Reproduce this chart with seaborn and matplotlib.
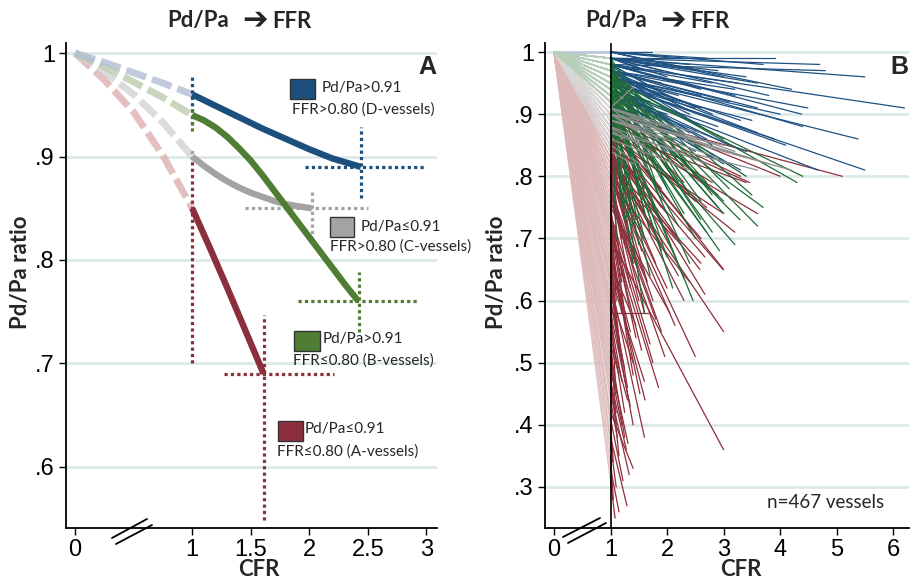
import numpy as np
import pandas as pd
import matplotlib
matplotlib.use("Agg")
import matplotlib.pyplot as plt
import seaborn as sns
from matplotlib.patches import Rectangle
from matplotlib.lines import Line2D

# ---------------- Panel A data (group mean curves) ----------------
d_fade_x = [0.0, 0.25, 0.5, 0.75, 1.0]
d_fade_y = [1.000, 0.991, 0.981, 0.971, 0.960]
d_curve_x = [1.0, 1.2, 1.4, 1.6, 1.8, 2.0, 2.2, 2.44]
d_curve_y = [0.960, 0.949, 0.938, 0.927, 0.917, 0.907, 0.898, 0.890]

b_fade_x = [0.0, 0.25, 0.5, 0.75, 1.0]
b_fade_y = [1.000, 0.987, 0.972, 0.957, 0.940]
b_curve_x = [1.0, 1.1, 1.2, 1.3, 1.4, 1.5, 1.6, 1.7, 1.8, 1.9, 2.0, 2.1, 2.2, 2.3, 2.42]
b_curve_y = [0.940, 0.935, 0.928, 0.919, 0.908, 0.896, 0.882, 0.867, 0.852, 0.837, 0.822,
             0.807, 0.792, 0.777, 0.760]

c_fade_x = [0.0, 0.25, 0.5, 0.75, 1.0]
c_fade_y = [1.000, 0.982, 0.960, 0.933, 0.900]
c_curve_x = [1.0, 1.1, 1.2, 1.3, 1.4, 1.5, 1.6, 1.7, 1.8, 1.9, 2.02]
c_curve_y = [0.900, 0.891, 0.883, 0.876, 0.870, 0.865, 0.861, 0.857, 0.854, 0.852, 0.850]

a_fade_x = [0.0, 0.25, 0.5, 0.75, 1.0]
a_fade_y = [1.000, 0.974, 0.943, 0.901, 0.850]
a_curve_x = [1.0, 1.15, 1.3, 1.45, 1.61]
a_curve_y = [0.850, 0.812, 0.773, 0.733, 0.690]

# dotted reference segments (x0, x1, y0, y1)
d_refs = [(1.0, 1.0, 0.930, 0.978), (2.44, 2.44, 0.860, 0.929), (1.96, 3.00, 0.890, 0.890)]
b_refs = [(1.0, 1.0, 0.925, 0.948), (2.42, 2.42, 0.730, 0.788), (1.90, 2.92, 0.760, 0.760)]
c_refs = [(1.0, 1.0, 0.897, 0.908), (2.02, 2.02, 0.819, 0.868), (1.45, 2.50, 0.850, 0.850)]
a_refs = [(1.0, 1.0, 0.700, 0.900), (1.61, 1.61, 0.549, 0.747), (1.27, 2.21, 0.690, 0.690)]

# ---------------- Panel B data (individual vessels) ----------------
blue_pdpa = [1.00, 0.99, 0.99, 0.99, 0.98, 0.97, 0.96, 0.95, 0.94, 0.97, 0.98, 0.96, 0.99, 0.98, 0.97,
             1.00, 0.95, 0.93, 0.99, 0.98, 0.97, 0.96, 0.98, 0.99, 0.95, 0.94, 0.93, 0.96, 0.94, 0.97,
             0.98, 0.95, 0.99, 0.97, 0.95, 0.92, 0.94, 0.92, 1.00, 0.96, 0.96, 1.00, 1.00, 0.93, 0.97,
             0.93, 0.96, 0.98, 0.99, 0.98, 0.99, 0.98, 0.97, 0.95, 0.94, 1.00, 0.99, 0.97, 0.96, 0.94,
             0.93, 0.92, 0.98, 0.95, 0.99, 0.99, 0.98, 0.97, 0.96, 0.95, 0.94, 0.93, 0.92, 0.97, 0.96,
             0.95, 0.99, 0.98, 1.00, 0.94, 0.93]
blue_cfr = [1.73, 3.91, 4.70, 5.50, 6.20, 4.49, 5.38, 5.50, 4.67, 4.40, 4.38, 4.00, 3.80, 3.26, 3.20,
            3.70, 3.90, 3.00, 2.50, 2.80, 3.10, 2.60, 2.20, 2.00, 3.50, 2.90, 3.40, 2.40, 2.70, 2.10,
            1.80, 2.30, 1.60, 3.60, 4.10, 2.50, 1.90, 2.20, 3.00, 3.30, 2.60, 4.20, 1.50, 2.00, 1.70,
            2.80, 3.60, 1.40, 2.40, 3.20, 2.90, 2.60, 2.30, 1.80, 2.40, 2.70, 3.40, 2.80, 1.60, 3.10,
            2.30, 1.90, 2.00, 2.10, 1.90, 1.30, 1.50, 1.90, 2.20, 2.50, 1.70, 1.50, 1.80, 2.60, 3.00,
            2.80, 3.60, 4.80, 2.10, 2.00, 3.30]
blue_ffr = [1.00, 0.99, 0.98, 0.96, 0.91, 0.91, 0.86, 0.81, 0.81, 0.88, 0.90, 0.90, 0.93, 0.95, 0.94,
            0.98, 0.86, 0.82, 0.97, 0.95, 0.92, 0.93, 0.95, 0.96, 0.89, 0.88, 0.84, 0.90, 0.86, 0.92,
            0.94, 0.87, 0.97, 0.91, 0.85, 0.84, 0.89, 0.83, 0.96, 0.89, 0.91, 0.94, 0.99, 0.90, 0.93,
            0.83, 0.87, 0.95, 0.98, 0.93, 0.97, 0.94, 0.91, 0.90, 0.87, 0.99, 0.96, 0.90, 0.92, 0.85,
            0.86, 0.85, 0.93, 0.88, 0.97, 0.99, 0.97, 0.95, 0.93, 0.91, 0.92, 0.91, 0.88, 0.88, 0.86,
            0.85, 0.95, 0.97, 0.99, 0.84, 0.81]

green_pdpa = [0.95, 0.96, 0.93, 0.92, 0.93, 0.94, 0.92, 0.93, 0.97, 0.95, 0.94, 0.96, 0.92, 0.98, 0.93,
              0.92, 0.94, 0.92, 0.99, 0.96, 0.97, 0.92, 0.93, 0.95, 0.94, 0.99, 0.95, 0.97, 0.96, 0.94,
              0.92, 0.98, 0.93, 0.95, 0.96, 0.99, 0.92, 0.94, 0.98, 0.97, 0.99, 0.93, 0.92, 0.95, 0.97,
              0.98, 0.94, 0.92]
green_cfr = [4.40, 4.30, 3.70, 3.20, 2.93, 3.29, 2.30, 2.46, 3.50, 3.00, 2.80, 2.60, 2.20, 2.00, 1.80,
             1.60, 2.40, 1.90, 1.50, 2.70, 3.10, 1.70, 2.10, 1.40, 2.50, 1.30, 2.90, 2.20, 1.90, 3.40,
             1.60, 1.20, 2.00, 2.60, 3.60, 1.80, 1.40, 2.30, 1.10, 2.80, 2.50, 1.50, 2.70, 1.70, 1.60,
             2.40, 3.00, 1.25]
green_ffr = [0.80, 0.79, 0.75, 0.69, 0.68, 0.73, 0.635, 0.60, 0.77, 0.74, 0.71, 0.76, 0.72, 0.78, 0.74,
             0.70, 0.66, 0.68, 0.77, 0.79, 0.78, 0.64, 0.62, 0.72, 0.70, 0.78, 0.75, 0.79, 0.76, 0.80,
             0.58, 0.75, 0.67, 0.73, 0.72, 0.79, 0.66, 0.74, 0.70, 0.77, 0.80, 0.69, 0.71, 0.71, 0.74,
             0.77, 0.76, 0.73]

gray_pdpa = [0.91, 0.90, 0.90, 0.89, 0.89, 0.88, 0.91, 0.90, 0.87, 0.90, 0.89, 0.91, 0.86, 0.88, 0.90,
             0.87, 0.91, 0.90, 0.88, 0.89, 0.91, 0.85, 0.84]
gray_cfr = [3.20, 3.40, 2.50, 3.00, 2.00, 2.70, 1.80, 2.20, 3.60, 1.50, 2.90, 1.30, 2.40, 1.90, 3.80,
            1.60, 2.10, 2.60, 1.20, 4.20, 1.42, 1.70, 1.40]
gray_ffr = [0.84, 0.83, 0.86, 0.85, 0.86, 0.82, 0.88, 0.84, 0.81, 0.87, 0.83, 0.89, 0.81, 0.83, 0.82,
            0.85, 0.88, 0.87, 0.86, 0.81, 0.945, 0.81, 0.82]

red_pdpa = [0.90, 0.89, 0.88, 0.87, 0.86, 0.84, 0.85, 0.70, 0.82, 0.80, 0.76, 0.88, 0.80, 0.66, 0.60,
            0.45, 0.38, 0.31, 0.50, 0.58, 0.68, 0.86, 0.90, 0.89, 0.91, 0.85, 0.83, 0.81, 0.78, 0.72,
            0.66, 0.74, 0.70, 0.60, 0.56, 0.84, 0.87, 0.88, 0.80, 0.82, 0.76, 0.84, 0.89, 0.83, 0.48,
            0.35, 0.78, 0.86, 0.87, 0.79, 0.72, 0.81, 0.80, 0.75, 0.64, 0.68, 0.55, 0.85, 0.86, 0.62,
            0.77, 0.73, 0.82, 0.74, 0.85, 0.58, 0.42, 0.52, 0.70, 0.83, 0.89, 0.88, 0.90, 0.91, 0.87,
            0.64, 0.53, 0.46, 0.40, 0.90, 0.79, 0.86, 0.88, 0.66, 0.60, 0.72, 0.76, 0.84, 0.82,
            0.88, 0.86, 0.84, 0.82, 0.80, 0.78, 0.76, 0.74, 0.71, 0.69, 0.67, 0.65, 0.63, 0.61, 0.59,
            0.57, 0.54, 0.51, 0.49, 0.47, 0.44, 0.41, 0.37, 0.33, 0.90, 0.87, 0.85, 0.83, 0.79, 0.77,
            0.73, 0.71, 0.75, 0.81, 0.63]
red_cfr = [5.10, 3.46, 3.60, 3.20, 2.99, 2.58, 2.67, 3.00, 3.00, 2.50, 1.96, 3.00, 2.14, 1.61, 1.40,
           1.33, 1.29, 1.08, 1.31, 1.66, 1.52, 2.67, 3.30, 2.80, 4.00, 2.20, 1.80, 2.00, 1.50, 1.30,
           1.20, 1.70, 1.40, 1.10, 1.25, 1.60, 1.90, 2.40, 1.20, 1.40, 1.10, 1.30, 1.50, 2.30, 1.15,
           1.05, 1.90, 2.10, 2.60, 1.35, 1.55, 1.45, 1.75, 1.25, 1.60, 1.15, 1.10, 2.00, 1.70, 1.30,
           1.80, 1.45, 1.20, 1.05, 1.15, 1.35, 1.40, 1.25, 1.10, 2.20, 2.50, 1.90, 2.90, 2.30, 3.40,
           1.20, 1.15, 1.10, 1.05, 1.60, 2.40, 3.00, 2.70, 1.45, 1.25, 1.20, 1.60, 1.90, 2.60,
           1.10, 1.20, 1.05, 1.35, 1.15, 1.25, 1.05, 1.30, 1.10, 1.20, 1.35, 1.05, 1.15, 1.40, 1.05,
           1.20, 1.30, 1.08, 1.20, 1.28, 1.12, 1.22, 1.10, 1.15, 1.35, 1.45, 1.55, 1.65, 1.60, 1.40,
           1.75, 1.85, 2.05, 2.25, 1.60]
red_ffr = [0.80, 0.79, 0.74, 0.71, 0.65, 0.65, 0.67, 0.36, 0.55, 0.51, 0.51, 0.65, 0.56, 0.44, 0.40,
           0.32, 0.27, 0.25, 0.37, 0.58, 0.45, 0.61, 0.80, 0.79, 0.80, 0.70, 0.66, 0.62, 0.60, 0.55,
           0.50, 0.53, 0.48, 0.45, 0.42, 0.70, 0.75, 0.72, 0.64, 0.68, 0.60, 0.72, 0.78, 0.60, 0.35,
           0.28, 0.55, 0.68, 0.70, 0.62, 0.52, 0.66, 0.60, 0.58, 0.47, 0.52, 0.40, 0.74, 0.72, 0.46,
           0.57, 0.54, 0.70, 0.65, 0.76, 0.43, 0.33, 0.38, 0.55, 0.64, 0.76, 0.78, 0.77, 0.79, 0.79,
           0.60, 0.48, 0.42, 0.34, 0.78, 0.63, 0.74, 0.75, 0.56, 0.49, 0.63, 0.64, 0.69, 0.66,
           0.80, 0.79, 0.77, 0.74, 0.72, 0.69, 0.70, 0.62, 0.64, 0.58, 0.55, 0.60, 0.52, 0.50, 0.54,
           0.47, 0.44, 0.46, 0.40, 0.36, 0.38, 0.31, 0.30, 0.26, 0.80, 0.73, 0.68, 0.63, 0.58, 0.66,
           0.50, 0.46, 0.58, 0.69, 0.38]

legend_lines = [("Pd/Pa>0.91", "FFR>0.80 (D-vessels)"),
                ("Pd/Pa\u22640.91", "FFR>0.80 (C-vessels)"),
                ("Pd/Pa>0.91", "FFR\u22640.80 (B-vessels)"),
                ("Pd/Pa\u22640.91", "FFR\u22640.80 (A-vessels)")]

# ---------------- styling ----------------
sns.set_theme(style="white")
plt.rcParams["font.family"] = ["Liberation Sans", "DejaVu Sans"]
CAL = ["Lato", "DejaVu Sans"]

colA = {"D": "#1c4f7c", "B": "#4f7d33", "C": "#a3a3a3", "A": "#8c2f3d"}
fadeA = {"D": "#b3bfd6", "B": "#bccbab", "C": "#d2d2d2", "A": "#deb0b0"}
colB = {"D": "#1f5283", "B": "#1e6b36", "C": "#8e8e8e", "A": "#8e2f3c"}
fadeB = {"D": "#bcc6de", "B": "#b8d0b8", "C": "#d8d8d8", "A": "#dcb8b8"}
GRID = "#dde9e9"

W, H = 911, 583
fig = plt.figure(figsize=(W / 100, H / 100), dpi=100)
fig.patch.set_facecolor("white")


def fx(px):
    return px / W


def fy(py):
    return 1 - py / H


axA = fig.add_axes([fx(66), fy(528), fx(437) - fx(66), fy(43) - fy(528)])
axB = fig.add_axes([fx(545), fy(528), fx(909) - fx(545), fy(43) - fy(528)])

for ax in (axA, axB):
    ax.set_facecolor("white")
    for s in ("top", "right"):
        ax.spines[s].set_visible(False)
    for s in ("left", "bottom"):
        ax.spines[s].set_color("black")
        ax.spines[s].set_linewidth(1.3)
    ax.tick_params(axis="both", direction="out", length=5, width=1.0, colors="black",
                   labelsize=17, pad=3, left=True, bottom=True)

# ---------- Panel A ----------
axA.set_xlim(-0.077, 3.09)
axA.set_ylim(0.541, 1.0097)
for yv in [0.6, 0.7, 0.8, 0.9, 1.0]:
    axA.axhline(yv, color=GRID, lw=2, zorder=0)

fades = {"A": (a_fade_x, a_fade_y), "C": (c_fade_x, c_fade_y),
         "B": (b_fade_x, b_fade_y), "D": (d_fade_x, d_fade_y)}
curves = {"A": (a_curve_x, a_curve_y), "C": (c_curve_x, c_curve_y),
          "B": (b_curve_x, b_curve_y), "D": (d_curve_x, d_curve_y)}
refs = {"D": d_refs, "C": c_refs, "A": a_refs, "B": b_refs}

for g in ["A", "C", "B", "D"]:
    fxv, fyv = fades[g]
    sns.lineplot(x=fxv, y=fyv, ax=axA, color=fadeA[g], lw=5.0, alpha=0.8,
                 linestyle=(0, (3.0, 0.9)), zorder=2, legend=False)
for g in ["D", "C", "A", "B"]:
    for (x0, x1, y0, y1) in refs[g]:
        axA.plot([x0, x1], [y0, y1], color=colA[g], lw=2.3, linestyle=(0, (1, 1)), zorder=3)
for g in ["A", "C", "B", "D"]:
    cx, cy = curves[g]
    sns.lineplot(x=cx, y=cy, ax=axA, color=colA[g], lw=4.6, zorder=4, legend=False,
                 solid_capstyle="butt", solid_joinstyle="round")
axA.set_xticks([0, 1, 1.5, 2, 2.5, 3])
axA.set_xticklabels(["0", "1", "1.5", "2", "2.5", "3"])
axA.set_yticks([0.6, 0.7, 0.8, 0.9, 1.0])
axA.set_yticklabels([".6", ".7", ".8", ".9", "1"])
axA.set_xlabel("")
axA.set_ylabel("")

# ---------- Panel B ----------
axB.set_xlim(-0.159, 6.28)
axB.set_ylim(0.234, 1.0145)
for yv in [0.3, 0.4, 0.5, 0.6, 0.7, 0.8, 0.9, 1.0]:
    axB.axhline(yv, color=GRID, lw=2, zorder=0)

groups = {"A": (red_pdpa, red_cfr, red_ffr), "D": (blue_pdpa, blue_cfr, blue_ffr),
          "C": (gray_pdpa, gray_cfr, gray_ffr), "B": (green_pdpa, green_cfr, green_ffr)}

fade_rows, solid_rows = [], []
vid = 0
for g, (p, c, f) in groups.items():
    for pi, ci, fi in zip(p, c, f):
        fade_rows += [(vid, g, 0.0, 1.0), (vid, g, 1.0, pi)]
        solid_rows += [(vid, g, 1.0, pi), (vid, g, ci, fi)]
        vid += 1
fade_df = pd.DataFrame(fade_rows, columns=["vessel", "group", "x", "y"])
solid_df = pd.DataFrame(solid_rows, columns=["vessel", "group", "x", "y"])

for g in ["A", "C", "D", "B"]:
    sub = fade_df[fade_df.group == g]
    sns.lineplot(data=sub, x="x", y="y", units="vessel", estimator=None, sort=False,
                 color=fadeB[g], lw=1.0, alpha=0.85, ax=axB, legend=False, zorder=2)
for g in ["A", "D", "B", "C"]:
    sub = solid_df[solid_df.group == g]
    sns.lineplot(data=sub, x="x", y="y", units="vessel", estimator=None, sort=False,
                 color=colB[g], lw=0.9, ax=axB, legend=False, zorder=3)
axB.axvline(1.0, color="black", lw=1.2, zorder=5)
axB.set_xticks([0, 1, 2, 3, 4, 5, 6])
axB.set_xticklabels(["0", "1", "2", "3", "4", "5", "6"])
axB.set_yticks([0.3, 0.4, 0.5, 0.6, 0.7, 0.8, 0.9, 1.0])
axB.set_yticklabels([".3", ".4", ".5", ".6", ".7", ".8", ".9", "1"])
axB.set_xlabel("")
axB.set_ylabel("")

# ---------- legend boxes (panel A) ----------
boxes = [("D", 290, 79, 315, 99, 322, 88, 292, 110),
         ("C", 330, 217, 354, 237, 361, 227, 330, 247),
         ("B", 294, 331, 320, 351, 323, 339, 293, 361),
         ("A", 278, 421, 303, 441, 305, 429, 277, 452)]
for (g, x0, y0, x1, y1, tx1, ty1, tx2, ty2), (l1, l2) in zip(boxes, legend_lines):
    fig.add_artist(Rectangle((fx(x0), fy(y1)), (x1 - x0) / W, (y1 - y0) / H,
                             transform=fig.transFigure, facecolor=colA[g],
                             edgecolor="#333333", lw=1.0))
    fig.text(fx(tx1), fy(ty1), l1, ha="left", va="center", fontsize=11, family=CAL)
    fig.text(fx(tx2), fy(ty2), l2, ha="left", va="center", fontsize=11, family=CAL)

# ---------- titles / labels ----------
for off in (0, 418):
    fig.text(fx(229 + off), fy(21), "Pd/Pa", ha="right", va="center",
             fontsize=16, fontweight="bold", family=CAL)
    fig.text(fx(255 + off), fy(20), "\u2794", ha="center", va="center",
             fontsize=22, fontweight="bold", family=["DejaVu Sans"])
    fig.text(fx(272 + off), fy(21), "FFR", ha="left", va="center",
             fontsize=16, fontweight="bold", family=CAL)
fig.text(fx(21), fy(272), "Pd/Pa ratio", rotation=90, ha="center", va="center",
         fontsize=16, fontweight="bold", family=CAL)
fig.text(fx(497), fy(272), "Pd/Pa ratio", rotation=90, ha="center", va="center",
         fontsize=16, fontweight="bold", family=CAL)
fig.text(fx(259), fy(570), "CFR", ha="center", va="center", fontsize=16,
         fontweight="bold", family=CAL)
fig.text(fx(741), fy(570), "CFR", ha="center", va="center", fontsize=16,
         fontweight="bold", family=CAL)
fig.text(fx(427), fy(67), "A", ha="center", va="center", fontsize=18, fontweight="bold")
fig.text(fx(899), fy(67), "B", ha="center", va="center", fontsize=18, fontweight="bold")
fig.text(fx(826), fy(503), "n=467 vessels", ha="center", va="center", fontsize=13.5, family=CAL)

# axis break marks
for (xa, ya, xb, yb) in [(112, 538, 147, 519), (116, 544, 152, 525),
                         (563, 537, 600, 518), (568, 543, 606, 523)]:
    fig.add_artist(Line2D([fx(xa), fx(xb)], [fy(ya), fy(yb)], transform=fig.transFigure,
                          color="black", lw=1.3))

fig.savefig("out.png", dpi=100, facecolor="white")
